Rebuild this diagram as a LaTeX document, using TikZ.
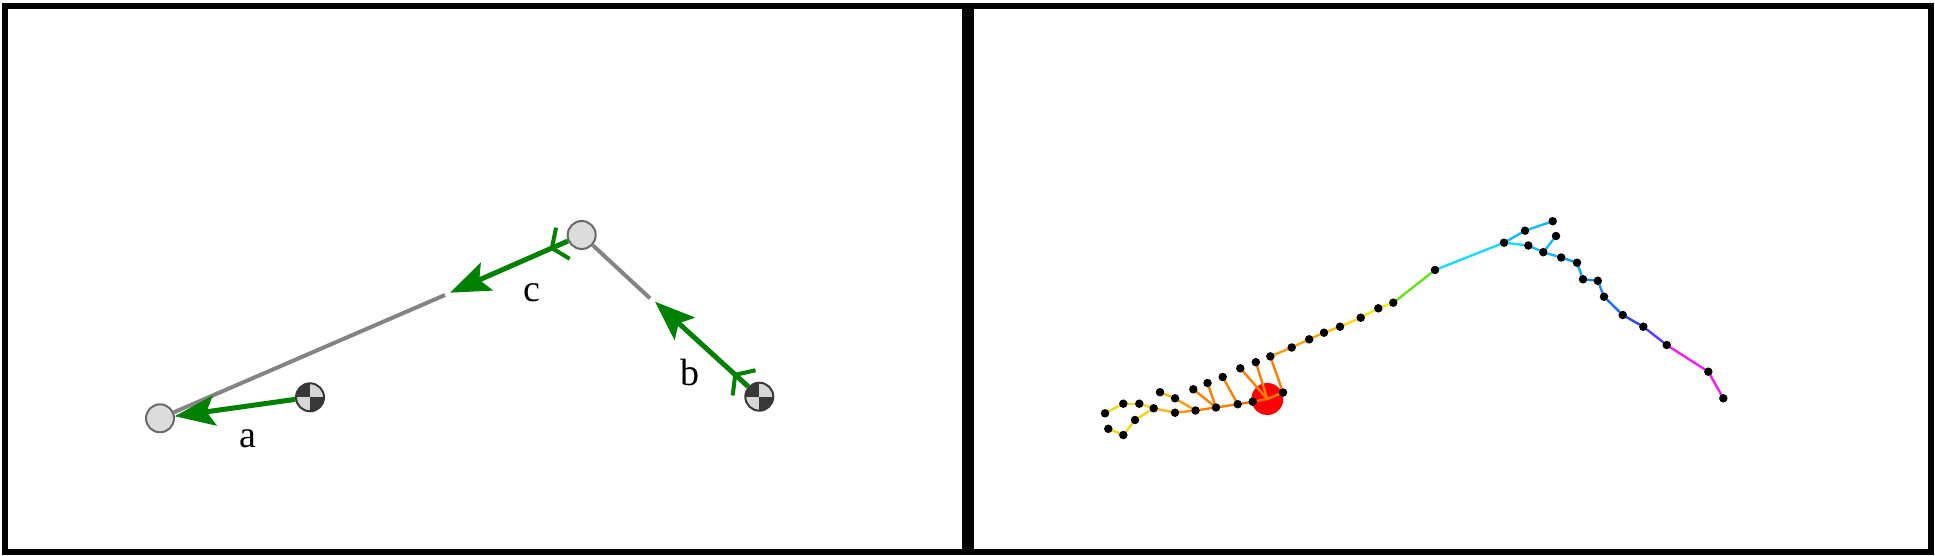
\documentclass[tikz,border=0pt]{standalone}
\usepackage{fontspec}
\setmainfont{Liberation Serif}
\usetikzlibrary{arrows.meta,decorations.markings}
\pgfdeclarelayer{back}
\pgfdeclarelayer{mid}
\pgfsetlayers{back,mid,main}
\definecolor{jointfill}{HTML}{DCDCDC}
\definecolor{jointline}{HTML}{6A6A6A}
\definecolor{comdark}{HTML}{383838}
\definecolor{comlight}{HTML}{D6D6D6}
\definecolor{linkgray}{HTML}{848484}
\definecolor{vgreen}{HTML}{008000}
\definecolor{cyel}{HTML}{F2D81C}
\definecolor{cyor}{HTML}{FFB21A}
\definecolor{cor1}{HTML}{FF9A10}
\definecolor{cor2}{HTML}{FF8000}
\definecolor{cor3}{HTML}{FF6A00}
\definecolor{cor4}{HTML}{FFA400}
\definecolor{cor5}{HTML}{FFC000}
\definecolor{cyl1}{HTML}{FFD800}
\definecolor{cyl2}{HTML}{F5EA10}
\definecolor{cgrn}{HTML}{66E020}
\definecolor{ccya}{HTML}{1CD8FF}
\definecolor{csky}{HTML}{14B8FF}
\definecolor{csk2}{HTML}{1AA0FF}
\definecolor{cblu1}{HTML}{2088FF}
\definecolor{cblu2}{HTML}{2468FF}
\definecolor{cblu3}{HTML}{2C48FF}
\definecolor{cvio}{HTML}{5A3CFF}
\definecolor{cmag}{HTML}{F020F0}
\begin{document}
\begin{tikzpicture}[x=1pt,y=-1pt,
  frame/.style={draw=black,line width=6pt},
  joint/.style={circle,draw=jointline,fill=jointfill,line width=2pt,minimum size=28pt,inner sep=0pt},
  com/.style={circle,draw=comdark,fill=comlight,line width=2pt,minimum size=28pt,inner sep=0pt,
    path picture={\fill[comdark] (path picture bounding box.center) rectangle (path picture bounding box.north west);
                  \fill[comdark] (path picture bounding box.center) rectangle (path picture bounding box.south east);}},
  link/.style={draw=linkgray,line width=4pt},
  garrow/.style={draw=vgreen,line width=5pt,-{Stealth[length=40pt,width=30pt,inset=8pt]}},
  tailbarb/.style={postaction={decorate},decoration={markings,mark=at position 20pt with {\arrow{Straight Barb[length=12pt,width=34pt,line width=4pt]}}}},
  lbl/.style={font=\fontsize{38}{40}\selectfont,inner sep=0pt,anchor=base},
  dot/.style={circle,fill=black,minimum size=8.5pt,inner sep=0pt},
  hubstyle/.style={circle,fill=red,minimum size=32pt,inner sep=0pt},
  edge/.style={line width=2.4pt,line cap=round}
]
\useasboundingbox (0,0) rectangle (1935,556);
% panel frames
\draw[frame] (5,6) rectangle (964.5,552);
\draw[frame] (970.5,6) rectangle (1931,552);

% ---------- left panel ----------
\node[joint] (J1) at (160,418.3) {};
\node[joint] (J2) at (581.7,235) {};
\node[com] (B1) at (310,397.3) {};
\node[com] (B2) at (759.3,396.7) {};
\coordinate (g1) at (445,295);
\coordinate (g2) at (650,298.3);
\coordinate (c1) at (450,292.7);
\coordinate (b1) at (655,301.7);
\draw[link] (J1) -- (g1);
\draw[link] (J2) -- (g2);
\draw[garrow] (B1) -- (J1);
\draw[garrow,tailbarb] (J2) -- (c1);
\draw[garrow,tailbarb] (B2) -- (b1);
\node[lbl] (la) at (248.3,447.5) {a};
\node[lbl] (lb) at (690,385.5) {b};
\node[lbl] (lc) at (531.7,301) {c};

% ---------- right panel ----------
\begin{pgfonlayer}{back}
\node[hubstyle] (hub) at (1267.3,399) {};
\end{pgfonlayer}
\foreach \n/\x/\y in {
  L1/1105/413.3, L2/1123.3/403.7, L3/1139.3/403.7, L4/1153.7/408.3, L5/1135/420, L6/1123.3/435, L7/1108.3/428.8,
  Q1/1160/392.2, Q2/1175/398.3, Q3/1175/412.7, Q4/1195.5/410.5, Q5/1193.3/389.3, Q6/1207.5/383,
  Q7/1216/407.5, Q8/1222.7/377, Q9/1237.7/404.2, Q10/1252.7/401.7,
  R1/1240.3/368.3, R2/1255.8/362.2, R3/1270.3/356.4, R4/1283/392.5,
  C1/1291.7/347.5, C2/1309.2/339.3, C3/1324/332.7, C4/1340/326.7, C5/1360.7/317.7, C6/1378.3/308.3,
  C7/1393.3/302.7, C8/1435/270, C9/1504/242.7,
  T1/1525/230.7, T2/1552.7/221.2,
  D1/1528.3/245.5, D2/1543.3/252.2, D3/1556/236, D4/1561.2/257.5, D5/1577/262.7, D6/1583/279.3,
  D7/1597.8/280.8, D8/1604/296.7, D9/1622.7/315, D10/1643.3/326.7, D11/1666.7/345, D12/1708.3/371.7, D13/1723.3/398.3}
  {\node[dot] (\n) at (\x,\y) {};}
\begin{pgfonlayer}{mid}
\draw[edge,cyel] (L1) -- (L2);
\draw[edge,cyel] (L2) -- (L3);
\draw[edge,cyel] (L3) -- (L4);
\draw[edge,cyel] (L4) -- (L5);
\draw[edge,cyel] (L5) -- (L6);
\draw[edge,cyel] (L6) -- (L7);
\draw[edge,cyor] (L4) -- (Q3);
\draw[edge,cyor] (Q1) -- (Q2);
\draw[edge,cor1] (Q2) -- (Q4);
\draw[edge,cor1] (Q3) -- (Q4);
\draw[edge,cor2] (Q4) -- (Q7);
\draw[edge,cor2] (Q5) -- (Q7);
\draw[edge,cor2] (Q6) -- (Q7);
\draw[edge,cor2] (Q7) -- (Q9);
\draw[edge,cor2] (Q8) -- (Q9);
\draw[edge,cor3] (Q9) -- (Q10);
\draw[edge,cor3] (Q10) -- (hub.center);
\draw[edge,cor2] (R1) -- (hub.center);
\draw[edge,cor2] (R2) -- (hub.center);
\draw[edge,cor2] (R4) -- (hub.center);
\draw[edge,cor2] (R3) -- (R4);
\draw[edge,cor1] (R3) -- (C1);
\draw[edge,cor4] (C1) -- (C2);
\draw[edge,cor4] (C2) -- (C3);
\draw[edge,cor5] (C3) -- (C4);
\draw[edge,cyl1] (C4) -- (C5);
\draw[edge,cyl2] (C5) -- (C6);
\draw[edge,cyl2] (C6) -- (C7);
\draw[edge,cgrn] (C7) -- (C8);
\draw[edge,ccya] (C8) -- (C9);
\draw[edge,csky] (C9) -- (T1);
\draw[edge,csky] (T1) -- (T2);
\draw[edge,ccya] (C9) -- (D1);
\draw[edge,csky] (D1) -- (D2);
\draw[edge,csky] (D2) -- (D3);
\draw[edge,csky] (D2) -- (D4);
\draw[edge,csk2] (D4) -- (D5);
\draw[edge,csk2] (D5) -- (D6);
\draw[edge,cblu1] (D6) -- (D7);
\draw[edge,cblu1] (D7) -- (D8);
\draw[edge,cblu2] (D8) -- (D9);
\draw[edge,cblu3] (D9) -- (D10);
\draw[edge,cvio] (D10) -- (D11);
\draw[edge,cmag] (D11) -- (D12);
\draw[edge,cmag] (D12) -- (D13);
\end{pgfonlayer}
\end{tikzpicture}
\end{document}
